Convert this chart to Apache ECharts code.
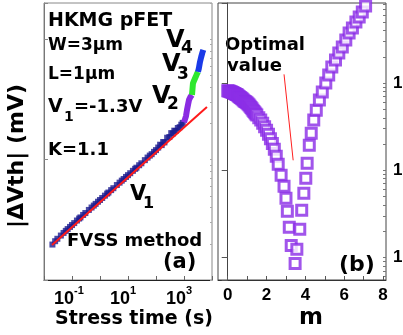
<!DOCTYPE html>
<html>
<head>
<meta charset="utf-8">
<script src="https://cdn.jsdelivr.net/npm/echarts@6/dist/echarts.min.js"></script>
<style>
html, body { margin: 0; padding: 0; background: #fff; }
#chart { width: 403px; height: 335px; }
</style>
</head>
<body>
<div id="chart"></div>
<script>
// ---- Panel (a): |ΔVth| versus stress time, FVSS method ----
// V1 stress phase (s, mV)
const v1Time = [0.02, 0.025, 0.03, 0.04, 0.05, 0.06, 0.07, 0.085, 0.1, 0.12, 0.15, 0.18, 0.2, 0.25, 0.3,
  0.4, 0.5, 0.6, 0.7, 0.85, 1, 1.2, 1.5, 1.8, 2, 2.5, 3, 4, 5, 6, 7, 8.5, 10, 12, 15, 18, 20, 25, 30,
  40, 50, 60, 70, 85, 100, 120, 140, 160, 180, 200, 250, 300, 350, 400, 450, 500, 600, 700, 800, 900];
const v1Shift = [1.97, 2.10, 2.20, 2.34, 2.46, 2.56, 2.65, 2.76, 2.86, 2.97, 3.12, 3.24, 3.31, 3.47, 3.60,
  3.82, 4.00, 4.15, 4.29, 4.47, 4.62, 4.80, 5.02, 5.22, 5.33, 5.58, 5.79, 6.15, 6.44, 6.69, 6.90, 7.18, 7.43, 7.71, 8.07, 8.38, 8.57, 8.98, 9.32,
  9.90, 10.4, 10.8, 11.1, 11.6, 12.0, 12.6, 13.3, 13.2, 14.0, 13.9, 15.2, 15.4, 16.6, 16.5, 17.4, 17.3, 18.3, 18.6, 19.5, 20.2];
// power-law fit of the V1 phase (K = 1.1)
const fitTime = [0.0193, 6600];
const fitShift = [1.95, 27.4];
// stepped stress phases V2, V3, V4
const v2Time = [1000, 1090, 1180, 1280, 1400, 1510, 1700, 1930];
const v2Shift = [20.4, 20.8, 23.0, 25.9, 28.8, 31.4, 33.2, 34.5];
const v3Time = [1930, 2000, 2090, 2300, 2600, 2900, 3160];
const v3Shift = [34.5, 38.0, 43.0, 45.5, 48.5, 51.5, 53.6];
const v4Time = [3160, 3400, 3730, 4100, 4500, 4890];
const v4Shift = [53.6, 57.5, 64.9, 71.0, 77.0, 81.6];
const timeTickLabels = [0.1, 10, 1000];

// ---- Panel (b): fitting error versus exponent m ----
const mValues = [0.0, 0.05, 0.1, 0.15, 0.2, 0.25, 0.3, 0.35, 0.4, 0.45, 0.5, 0.55, 0.6, 0.65, 0.7, 0.75, 0.8, 0.85, 0.9, 0.95,
  1.0, 1.05, 1.1, 1.15, 1.2, 1.25, 1.3, 1.35, 1.4, 1.45, 1.5, 1.6, 1.7, 1.8, 1.9,
  2.0, 2.1, 2.2, 2.3, 2.4, 2.5, 2.6, 2.75, 2.9, 3.0, 3.07, 3.17, 3.27, 3.47,
  3.56, 3.71, 3.81, 3.92, 4.02, 4.09, 4.2, 4.3, 4.43, 4.56, 4.72, 4.87, 5.05, 5.2, 5.36, 5.55, 5.72, 5.9,
  6.08, 6.25, 6.42, 6.6, 6.77, 6.93, 7.1];
const fitError = [81.5, 81.0, 80.4, 79.6, 78.8, 77.8, 76.8, 75.8, 74.8, 73.8, 72.8, 71.3, 69.9, 68.5, 67.2, 65.5, 63.8, 62.5, 61.3, 60.1,
  58.9, 57.4, 55.9, 54.1, 52.3, 50.6, 48.9, 47.3, 45.8, 44.3, 42.9, 40.1, 37.6, 34.7, 31.6,
  28.8, 25.9, 23.0, 20.2, 17.4, 14.5, 11.7, 8.76, 6.55, 4.77, 3.38, 2.21, 1.37, 0.853,
  1.24, 2.10, 3.47, 5.44, 8.09, 12.0, 19.4, 26.6, 37.6, 48.9, 63.8, 78.8, 100, 124, 153, 184, 221, 259,
  312, 376, 429, 502, 574, 655, 767];
const optimalArrowM = [2.9, 3.37];
const optimalArrowErr = [126, 13];
const mTickLabels = [0, 2, 4, 6, 8];
const mTicks = [0, 1, 2, 3, 4, 5, 6, 7, 8];
const errTickLabels = [1, 10, 100];

const pairs = (xs, ys) => xs.map((x, i) => [x, ys[i]]);

// log-axis minor tick positions (1..9 per decade)
function logTicks(lo, hi) {
  const out = [];
  for (let d = lo; d <= hi; d *= 10) {
    for (let k = 1; k <= 9; k++) out.push(+(k * d).toPrecision(3));
  }
  return out;
}

const BOLD = 'DejaVu Sans';
const ARIAL = 'Liberation Sans';

function txt(text, x, y, size, extra, family) {
  return {
    type: 'text', x: x, y: y, silent: true,
    style: Object.assign({
      text: text, fill: '#000', font: 'bold ' + size + 'px "' + (family || BOLD) + '"',
      textAlign: 'left', textVerticalAlign: 'middle'
    }, extra || {})
  };
}

const gridA = { left: 44, top: 3, width: 168, height: 277 };
const gridB = { left: 218, top: 3, width: 168, height: 277 };

const chart = echarts.init(document.getElementById('chart'), null, { renderer: 'canvas' });

chart.setOption({
  animation: false,
  backgroundColor: '#fff',
  grid: [
    Object.assign({ show: true, borderColor: '#888', borderWidth: 1 }, gridA),
    Object.assign({ show: true, borderColor: '#444', borderWidth: 1 }, gridB)
  ],
  xAxis: [
    {
      type: 'log', gridIndex: 0, min: 0.01, max: 10000, logBase: 10,
      axisLine: { show: true, lineStyle: { color: '#222', width: 1 } },
      axisTick: { show: true, inside: true, length: 4, lineStyle: { color: '#666' } },
      axisLabel: { show: false },
      splitLine: { show: false }
    },
    {
      type: 'value', gridIndex: 1, min: -0.5, max: 8.15,
      axisLine: { show: true, lineStyle: { color: '#333', width: 1 } },
      axisTick: { show: true, inside: true, length: 4, customValues: mTicks, lineStyle: { color: '#555' } },
      axisLabel: { customValues: mTickLabels, margin: 7, color: '#000', fontFamily: ARIAL, fontWeight: 'bold', fontSize: 17 },
      splitLine: { show: false }
    }
  ],
  yAxis: [
    {
      type: 'log', gridIndex: 0, min: 1, max: 200, logBase: 10,
      axisLine: { show: true, lineStyle: { color: '#777', width: 1 } },
      axisTick: { show: true, inside: true, length: 4, lineStyle: { color: '#888' } },
      axisLabel: { show: false },
      splitLine: { show: false }
    },
    {
      type: 'log', gridIndex: 0, min: 1, max: 200, logBase: 10,
      axisLine: { show: false },
      axisTick: { show: true, inside: true, length: 2, customValues: logTicks(1, 100), lineStyle: { color: '#aaa' } },
      axisLabel: { show: false },
      splitLine: { show: false }
    },
    {
      type: 'log', gridIndex: 1, position: 'right', min: 0.55, max: 830, logBase: 10,
      axisLine: { show: true, lineStyle: { color: '#444', width: 1 } },
      axisTick: { show: true, inside: true, length: 6, lineStyle: { color: '#555' } },
      axisLabel: { show: false },
      splitLine: { show: false }
    },
    {
      type: 'log', gridIndex: 1, position: 'right', min: 0.55, max: 830, logBase: 10,
      axisLine: { show: false },
      axisTick: { show: true, inside: true, length: 3, customValues: logTicks(0.1, 100), lineStyle: { color: '#777' } },
      axisLabel: { show: false },
      splitLine: { show: false }
    }
  ],
  series: [
    {
      name: 'V1', type: 'scatter', xAxisIndex: 0, yAxisIndex: 0,
      symbol: 'rect', symbolSize: 6, itemStyle: { color: '#1b1b8f' },
      data: pairs(v1Time, v1Shift), z: 2
    },
    {
      name: 'fit', type: 'line', xAxisIndex: 0, yAxisIndex: 0, showSymbol: false, symbol: 'none',
      lineStyle: { color: '#ff1a1a', width: 2 }, data: pairs(fitTime, fitShift), z: 5
    },
    {
      name: 'V2', type: 'line', xAxisIndex: 0, yAxisIndex: 0, symbol: 'none',
      lineStyle: { color: '#8a2be2', width: 6 }, data: pairs(v2Time, v2Shift), z: 3
    },
    {
      name: 'V3', type: 'line', xAxisIndex: 0, yAxisIndex: 0, symbol: 'none',
      lineStyle: { color: '#2ee82e', width: 6 }, data: pairs(v3Time, v3Shift), z: 3
    },
    {
      name: 'V4', type: 'line', xAxisIndex: 0, yAxisIndex: 0, symbol: 'none',
      lineStyle: { color: '#1a3ae8', width: 6 }, data: pairs(v4Time, v4Shift), z: 3
    },
    {
      name: 'error', type: 'scatter', xAxisIndex: 1, yAxisIndex: 2,
      symbol: 'rect', symbolSize: 10,
      itemStyle: { color: '#fff', borderColor: '#8a2be6', borderWidth: 3 },
      data: pairs(mValues, fitError),
      markLine: {
        silent: true, symbol: ['none', 'arrow'], symbolSize: [0, 7],
        label: { show: false },
        lineStyle: { color: '#ff2020', width: 1, type: 'solid' },
        data: [[
          { coord: [optimalArrowM[0], optimalArrowErr[0]] },
          { coord: [optimalArrowM[1], optimalArrowErr[1]] }
        ]]
      }
    }
  ]
});

// decade tick labels "10^e", placed through the axis scales
const tickText = [];
const xLabelY = gridA.top + gridA.height + 19;
timeTickLabels.forEach(v => {
  const x = chart.convertToPixel({ xAxisIndex: 0 }, v);
  const e = Math.round(Math.log10(v));
  tickText.push(txt('10', x + 2, xLabelY, 18, { textAlign: 'right' }, ARIAL));
  tickText.push(txt(String(e), x + 2, xLabelY - 8, 11, { textAlign: 'left' }, ARIAL));
});
const yLabelX = gridB.left + gridB.width + 7;
errTickLabels.forEach(v => {
  const y = chart.convertToPixel({ yAxisIndex: 2 }, v);
  const e = Math.round(Math.log10(v));
  tickText.push(txt('10', yLabelX, y, 17, null, ARIAL));
  tickText.push(txt(String(e), yLabelX + 19, y - 7, 11, null, ARIAL));
});

chart.setOption({
  graphic: tickText.concat([
    // panel (a) annotations
    txt('HKMG pFET', 48, 21, 19),
    txt('W=3μm', 48, 46, 17),
    txt('L=1μm', 48, 75, 17),
    txt('V', 48, 107, 19),
    txt('1', 64, 117, 14),
    txt('=-1.3V', 74, 107, 18),
    txt('K=1.1', 48, 150, 18),
    txt('V', 166, 41, 24),
    txt('4', 181, 49, 17),
    txt('V', 162, 65, 24),
    txt('3', 177, 75, 17),
    txt('V', 152, 97, 24),
    txt('2', 167, 105, 17),
    txt('V', 130, 195, 21),
    txt('1', 143, 204, 16),
    txt('FVSS method', 67, 241, 18),
    txt('(a)', 163, 263, 21),
    // panel (b) annotations
    txt('Optimal', 225, 45, 18),
    txt('value', 227, 66, 18),
    txt('(b)', 339, 265, 22),
    // axis titles
    {
      type: 'text', x: 17, y: 156, rotation: Math.PI / 2, silent: true,
      style: { text: '|ΔVth| (mV)', fill: '#000', font: 'bold 22px "' + BOLD + '"', textAlign: 'center', textVerticalAlign: 'middle' }
    },
    txt('Stress time (s)', 134, 319, 19, { textAlign: 'center' }),
    txt('m', 311, 318, 23, { textAlign: 'center' })
  ])
});
</script>
</body>
</html>
